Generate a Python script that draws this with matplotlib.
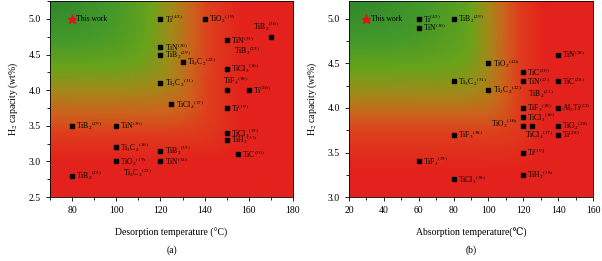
import numpy as np
import matplotlib
matplotlib.use("Agg")
import matplotlib.pyplot as plt
from matplotlib.colors import LinearSegmentedColormap
from matplotlib.ticker import MultipleLocator

plt.rcParams['font.family'] = ['Liberation Serif', 'DejaVu Serif']
plt.rcParams['mathtext.fontset'] = 'stix'

# ---- data: (a) desorption ----
des_x = [120, 140, 170, 150, 130, 120, 120, 120, 125, 150, 150, 160, 150,
         80, 100, 100, 100, 120, 120, 80, 150, 150, 155]
des_y = [5.0, 5.0, 4.75, 4.7, 4.4, 4.6, 4.5, 4.1, 3.8, 4.3, 4.0, 4.0, 3.75,
         3.5, 3.5, 3.2, 3.0, 3.15, 3.0, 2.8, 3.4, 3.3, 3.1]
des_lab = [r"Ti$^{(45)}$", r"TiO$_2$$^{(19)}$", r"TiB$_2$$^{(36)}$", r"TiN$^{(33)}$",
           r"Ti$_3$C$_2$$^{(22)}$", r"TiN$^{(30)}$", r"TiB$_2$$^{(29)}$",
           r"Ti$_2$C$_2$$^{(31)}$", r"TiCl$_4$$^{(17)}$", r"TiCl$_3$$^{(16)}$",
           r"TiF$_3$$^{(18)}$", r"Ti$^{(26)}$", r"Ti$^{(39)}$", r"TiB$_2$$^{(29)}$",
           r"TiN$^{(30)}$", r"Ti$_3$C$_2$$^{(16)}$", r"TiO$_2$$^{(19)}$",
           r"TiB$_2$$^{(35)}$", r"TiN$^{(34)}$", r"TiB$_2$$^{(25)}$",
           r"TiCl$_3$$^{(35)}$", r"TiH$_2$$^{(37)}$", r"TiC$^{(30)}$"]
des_free = [(153.5, 4.56, r"TiB$_2$$^{(23)}$"), (103, 2.84, r"Ti$_2$C$_2$$^{(21)}$")]
des_work = (80, 5.0)

# ---- data: (b) absorption ----
abs_x = [60, 60, 80, 80, 100, 140, 120, 120, 140, 100, 120, 140, 120, 120, 125,
         140, 140, 120, 120, 80, 60, 80]
abs_y = [5.0, 4.9, 5.0, 4.3, 4.5, 4.6, 4.4, 4.3, 4.3, 4.2, 4.0, 4.0, 3.9, 3.8, 3.8,
         3.8, 3.7, 3.5, 3.25, 3.7, 3.4, 3.2]
abs_lab = [r"Ti$^{(45)}$", r"TiN$^{(30)}$", r"TiB$_2$$^{(29)}$", r"Ti$_3$C$_2$$^{(31)}$",
           r"TiO$_2$$^{(40)}$", r"TiN$^{(28)}$", r"TiC$^{(20)}$", r"TiN$^{(23)}$",
           r"TiC$^{(28)}$", r"Ti$_2$C$_2$$^{(22)}$", r"TiF$_3$$^{(18)}$",
           r"Al$_3$Ti$^{(22)}$", r"TiCl$_3$$^{(16)}$", r"TiO$_2$$^{(16)}$",
           r"TiCl$_4$$^{(17)}$", r"TiO$_2$$^{(28)}$", r"Ti$^{(28)}$", r"Ti$^{[39]}$",
           r"TiH$_2$$^{(38)}$", r"TiF$_3$$^{(38)}$", r"TiF$_3$$^{(35)}$",
           r"TiCl$_3$$^{(38)}$"]
abs_free = [(123, 4.16, r"TiB$_2$$^{(21)}$")]
abs_work = (30, 5.0)

# label placement tweaks (offset points, ha)
des_off = {2: (-3.5, 7.5, 'center'), 10: (-3, 6.5, 'left')}
abs_off = {13: (-4, 1.5, 'right'), 14: (-5, -6.5, 'left')}

cmap = LinearSegmentedColormap.from_list("rg", [
    (0.0, "#e4221d"), (0.2, "#de3e1c"), (0.32, "#cc641d"), (0.45, "#a08a19"),
    (0.58, "#6aa31b"), (0.75, "#43992a"), (1.0, "#2c822b")])


def background(ax, xlim, ylim, xk, xv, yk, yv):
    xs = np.linspace(*xlim, 400)
    ys = np.linspace(*ylim, 400)
    X, Y = np.meshgrid(xs, ys)
    fx = np.interp(X, xk, xv)
    gy = np.interp(Y, yk, yv)
    k = 12.0
    v = -np.log(np.exp(-k * fx) + np.exp(-k * gy)) / k
    ax.imshow(v, extent=[*xlim, *ylim], origin='lower', aspect='auto', cmap=cmap,
              vmin=0, vmax=1, zorder=0, interpolation='bilinear')


def panel(ax, xs, ys, labs, free, work, offs, xlim, ylim, grad, xlabel, tag):
    background(ax, xlim, ylim, *grad)
    ax.plot(xs, ys, 's', color='black', ms=3.5, zorder=3)
    ax.plot(*work, '*', color='#e3121b', ms=6.5, zorder=3)
    ax.annotate("This work", work, xytext=(3, 0), textcoords='offset points',
                va='center', fontsize=5.5)
    for i, (x, y, t) in enumerate(zip(xs, ys, labs)):
        dx, dy, ha = offs.get(i, (3, 0, 'left'))
        ax.annotate(t, (x, y), xytext=(dx, dy), textcoords='offset points',
                    va='center', ha=ha, fontsize=5.5, zorder=4)
    for x, y, t in free:
        ax.text(x, y, t, fontsize=5.5, va='center', zorder=4)
    ax.set_xlim(xlim)
    ax.set_ylim(ylim)
    ax.xaxis.set_major_locator(MultipleLocator(20))
    ax.xaxis.set_minor_locator(MultipleLocator(10))
    ax.yaxis.set_major_locator(MultipleLocator(0.5))
    ax.yaxis.set_minor_locator(MultipleLocator(0.25))
    ax.tick_params(which='both', labelsize=7, direction='out', length=3, width=0.6)
    ax.tick_params(which='minor', length=2)
    ax.set_xlabel(xlabel, fontsize=7, labelpad=9)
    ax.set_ylabel(r"H$_2$ capacity (wt%)", fontsize=7, labelpad=6)
    ax.text(0.5, -0.27, tag, transform=ax.transAxes, ha='center', va='center', fontsize=7)
    for s in ax.spines.values():
        s.set_linewidth(0.6)


fig = plt.figure(figsize=(6.02, 2.61), dpi=100)
ax1 = fig.add_axes([0.083, 0.245, 0.4037, 0.751])
ax2 = fig.add_axes([0.5797, 0.245, 0.4053, 0.751])

grad_a = ([70, 112, 127, 142, 157], [1, 0.62, 0.42, 0.2, 0],
          [3.0, 3.5, 4.0, 4.4, 5.25], [0, 0.25, 0.45, 0.62, 1])
grad_b = ([20, 87, 102, 114, 132], [1, 0.62, 0.42, 0.25, 0],
          [3.3, 3.8, 4.15, 4.5, 5.2], [0, 0.25, 0.45, 0.62, 1])

panel(ax1, des_x, des_y, des_lab, des_free, des_work, des_off, (70, 180), (2.5, 5.25),
      grad_a, "Desorption temperature (°C)", "(a)")
panel(ax2, abs_x, abs_y, abs_lab, abs_free, abs_work, abs_off, (20, 160), (3.0, 5.2),
      grad_b, "Absorption temperature(℃)", "(b)")

fig.savefig("out.png", dpi=100)
